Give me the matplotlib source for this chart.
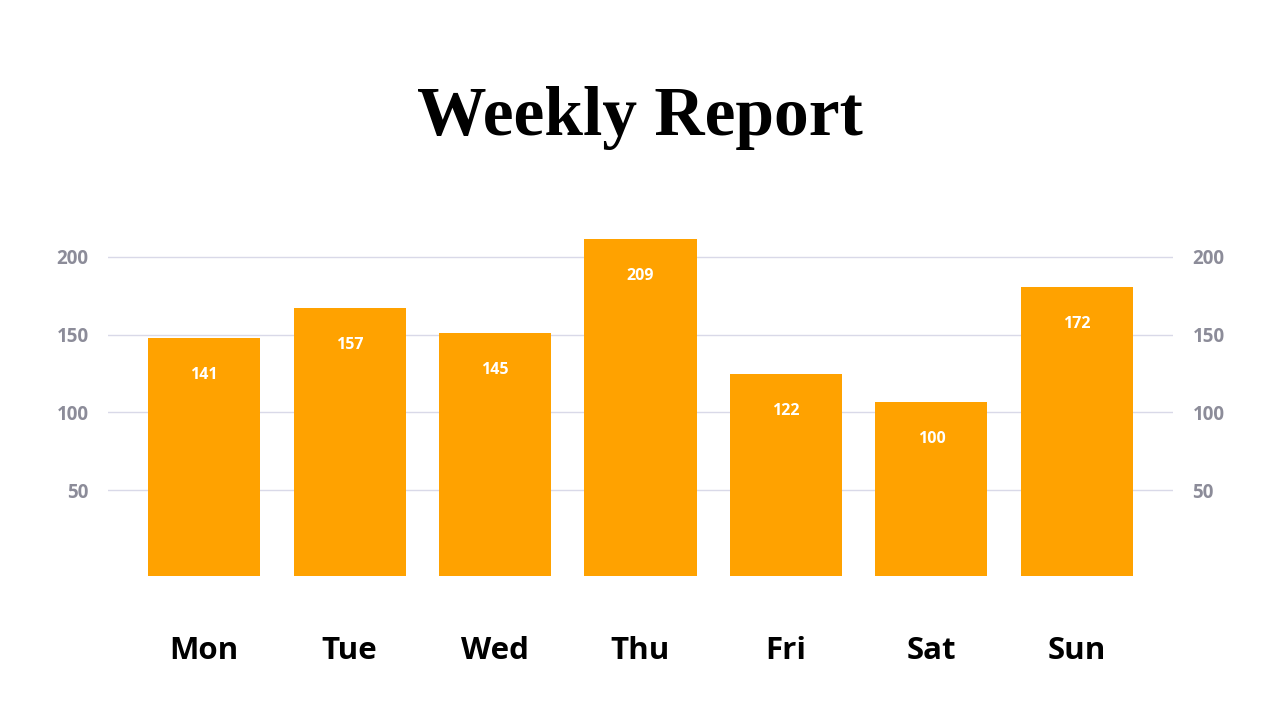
import matplotlib.pyplot as plt

days = ["Mon", "Tue", "Wed", "Thu", "Fri", "Sat", "Sun"]
values = [141, 157, 145, 209, 122, 100, 172]
# bar tops as drawn in the picture (not exactly equal to the labels)
heights = [147.8, 167.1, 151.0, 211.5, 124.7, 106.7, 180.6]
yticks = [50, 100, 150, 200]

bar_color = "#FFA200"
grid_color = "#D9D9E8"
tick_color = "#8C8C99"

fig = plt.figure(figsize=(12.8, 7.2), dpi=100)
ax = fig.add_axes([108 / 1280, 0.2, (1173 - 108) / 1280, (576 - 230) / 720])

base = -5.3
x = list(range(len(days)))
bars = ax.bar(x, [h - base for h in heights], bottom=base, width=0.77,
              color=bar_color, zorder=3)

for xi, h, v in zip(x, heights, values):
    ax.annotate(str(v), (xi, h), xytext=(0, -26.5), textcoords="offset points",
                ha="center", va="center", color="white", fontsize=11.5,
                fontweight="bold", family="Open Sans", zorder=4)

ax.set_xlim(-0.66, 6.66)
ax.set_ylim(base, 217.3)
ax.set_yticks(yticks)
ax.set_xticks(x)
ax.set_xticklabels(days, fontsize=22.5, fontweight="bold", family="Open Sans")
ax.tick_params(axis="x", length=0, pad=43, colors="black")
ax.tick_params(axis="y", length=0, pad=14, labelsize=13.5, labelcolor=tick_color,
               left=True, right=True, labelleft=True, labelright=True)
for lab in ax.get_yticklabels():
    lab.set_fontweight("bold")
    lab.set_family("Open Sans")
ax.grid(axis="y", color=grid_color, linewidth=1, zorder=0)
for s in ax.spines.values():
    s.set_visible(False)

fig.text(0.5, (720 - 118) / 720, "Weekly Report", ha="center", va="center",
         fontsize=50, fontweight="bold", family="Liberation Serif")

fig.savefig("out.png", dpi=100)
